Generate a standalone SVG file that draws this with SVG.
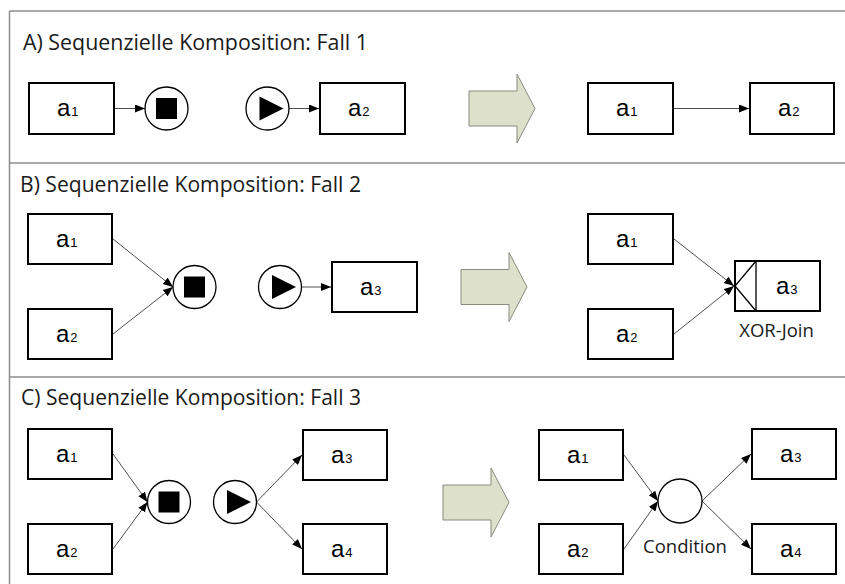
<svg xmlns="http://www.w3.org/2000/svg" width="845" height="584" viewBox="0 0 845 584">
  <defs>
    <style>
      .frame { stroke: #8c8c8c; stroke-width: 1.5; fill: none; }
      .title { font-family: "Open Sans", "Liberation Sans", sans-serif; font-size: 21.5px; fill: #1a1a1a; }
      .note { font-family: "Open Sans", "Liberation Sans", sans-serif; font-size: 18.5px; fill: #1a1a1a; text-anchor: middle; }
      .box { fill: #ffffff; stroke: #000000; stroke-width: 2; }
      .lbl { font-family: "Liberation Sans", Arial, sans-serif; font-size: 24px; fill: #000000; }
      .sub { font-size: 13px; }
      .ev { fill: #ffffff; stroke: #000000; stroke-width: 1.3; }
      .mark { fill: #000000; }
      .flow { stroke: #3a3a3a; stroke-width: 0.9; fill: none; marker-end: url(#tip); }
      .big { fill: #dde0cb; stroke: #8a8a80; stroke-width: 1; }
    </style>
    <marker id="tip" markerUnits="userSpaceOnUse" markerWidth="11" markerHeight="9" refX="10" refY="4" orient="auto">
      <path d="M0,0 L10,4 L0,8 z" fill="#000000"/>
    </marker>
    <!-- end event: circle with filled square -->
    <g id="stopEv">
      <circle class="ev" r="21.5"/>
      <rect class="mark" x="-10.5" y="-10.5" width="21" height="21"/>
    </g>
    <!-- start event: circle with filled triangle -->
    <g id="startEv">
      <circle class="ev" r="21.5"/>
      <path class="mark" d="M-8,-12 L16,0 L-8,12 z"/>
    </g>
    <!-- transformation arrow -->
    <path id="bigArrow" class="big" d="M0,-17.5 L48,-17.5 L48,-34.5 L66,0 L48,34.5 L48,17.5 L0,17.5 z"/>
  </defs>

  <!-- section frame -->
  <g id="frame">
    <line class="frame" x1="9.5" y1="11" x2="845" y2="11"/>
    <line class="frame" x1="9.5" y1="11" x2="9.5" y2="584"/>
    <line class="frame" x1="9.5" y1="163" x2="845" y2="163"/>
    <line class="frame" x1="9.5" y1="377" x2="845" y2="377"/>
  </g>

  <g id="titles">
    <text class="title" x="23" y="50" textLength="345" lengthAdjust="spacingAndGlyphs">A) Sequenzielle Komposition: Fall 1</text>
    <text class="title" x="20" y="192" textLength="341" lengthAdjust="spacingAndGlyphs">B) Sequenzielle Komposition: Fall 2</text>
    <text class="title" x="21" y="405" textLength="340" lengthAdjust="spacingAndGlyphs">C) Sequenzielle Komposition: Fall 3</text>
  </g>

  <g id="transform-arrows">
    <use href="#bigArrow" x="469" y="108.5"/>
    <use href="#bigArrow" x="461" y="287"/>
    <use href="#bigArrow" x="443" y="502.5"/>
  </g>

  <!-- connectors -->
  <g id="connectors">
    <!-- A -->
    <line class="flow" x1="115" y1="108.5" x2="145" y2="108.5"/>
    <line class="flow" x1="289" y1="108.5" x2="319" y2="108.5"/>
    <line class="flow" x1="674" y1="108.5" x2="749" y2="108.5"/>
    <!-- B -->
    <line class="flow" x1="113" y1="239" x2="173" y2="287"/>
    <line class="flow" x1="113" y1="334" x2="173" y2="287"/>
    <line class="flow" x1="301.5" y1="287" x2="331" y2="287"/>
    <line class="flow" x1="674" y1="239" x2="734" y2="286"/>
    <line class="flow" x1="674" y1="334" x2="734" y2="286"/>
    <!-- C -->
    <line class="flow" x1="113" y1="454" x2="147.5" y2="502"/>
    <line class="flow" x1="113" y1="549" x2="147.5" y2="502"/>
    <line class="flow" x1="256.5" y1="502" x2="302" y2="455"/>
    <line class="flow" x1="256.5" y1="502" x2="302" y2="549"/>
    <line class="flow" x1="624" y1="455" x2="658" y2="501"/>
    <line class="flow" x1="624" y1="549" x2="658" y2="501"/>
    <line class="flow" x1="702" y1="501" x2="751" y2="454"/>
    <line class="flow" x1="702" y1="501" x2="751" y2="549"/>
  </g>

  <!-- A: sequential composition, case 1 -->
  <g id="A-a1"><rect class="box" x="29" y="83" width="85" height="51"/><text class="lbl" x="57" y="116">a<tspan class="sub" dx="1">1</tspan></text></g>
  <g id="A-end"><use href="#stopEv" x="166.5" y="108.5"/></g>
  <g id="A-start"><use href="#startEv" x="267.5" y="108.5"/></g>
  <g id="A-a2"><rect class="box" x="320" y="83" width="85" height="51"/><text class="lbl" x="348" y="116">a<tspan class="sub" dx="1">2</tspan></text></g>
  <g id="A-r-a1"><rect class="box" x="588" y="83" width="85" height="51"/><text class="lbl" x="616" y="116">a<tspan class="sub" dx="1">1</tspan></text></g>
  <g id="A-r-a2"><rect class="box" x="750" y="83" width="84" height="51"/><text class="lbl" x="778" y="116">a<tspan class="sub" dx="1">2</tspan></text></g>

  <!-- B: sequential composition, case 2 -->
  <g id="B-a1"><rect class="box" x="28" y="214" width="84" height="50"/><text class="lbl" x="56" y="247">a<tspan class="sub" dx="1">1</tspan></text></g>
  <g id="B-a2"><rect class="box" x="28" y="309" width="84" height="50"/><text class="lbl" x="56" y="342">a<tspan class="sub" dx="1">2</tspan></text></g>
  <g id="B-end"><use href="#stopEv" x="194.5" y="287"/></g>
  <g id="B-start"><use href="#startEv" x="280" y="287"/></g>
  <g id="B-a3"><rect class="box" x="332" y="262" width="85" height="50"/><text class="lbl" x="360" y="295">a<tspan class="sub" dx="1">3</tspan></text></g>
  <g id="B-r-a1"><rect class="box" x="588" y="214" width="85" height="50"/><text class="lbl" x="616" y="247">a<tspan class="sub" dx="1">1</tspan></text></g>
  <g id="B-r-a2"><rect class="box" x="588" y="309" width="85" height="50"/><text class="lbl" x="616" y="342">a<tspan class="sub" dx="1">2</tspan></text></g>
  <g id="B-r-a3-xor">
    <rect class="box" x="735" y="261" width="85" height="50"/>
    <path d="M756,261 V311 M756,261 L735,286 L756,311" stroke="#000" stroke-width="1.3" fill="none"/>
    <text class="lbl" x="776" y="294">a<tspan class="sub" dx="1">3</tspan></text>
    <text class="note" x="776.5" y="337">XOR-Join</text>
  </g>

  <!-- C: sequential composition, case 3 -->
  <g id="C-a1"><rect class="box" x="28" y="429" width="84" height="50"/><text class="lbl" x="56" y="462">a<tspan class="sub" dx="1">1</tspan></text></g>
  <g id="C-a2"><rect class="box" x="28" y="524" width="84" height="50"/><text class="lbl" x="56" y="557">a<tspan class="sub" dx="1">2</tspan></text></g>
  <g id="C-end"><use href="#stopEv" x="169" y="502"/></g>
  <g id="C-start"><use href="#startEv" x="235" y="502"/></g>
  <g id="C-a3"><rect class="box" x="303" y="430" width="84" height="50"/><text class="lbl" x="331" y="463">a<tspan class="sub" dx="1">3</tspan></text></g>
  <g id="C-a4"><rect class="box" x="303" y="524" width="84" height="50"/><text class="lbl" x="331" y="557">a<tspan class="sub" dx="1">4</tspan></text></g>
  <g id="C-r-a1"><rect class="box" x="539" y="430" width="84" height="50"/><text class="lbl" x="567" y="463">a<tspan class="sub" dx="1">1</tspan></text></g>
  <g id="C-r-a2"><rect class="box" x="539" y="524" width="84" height="50"/><text class="lbl" x="567" y="557">a<tspan class="sub" dx="1">2</tspan></text></g>
  <g id="C-r-cond">
    <circle class="ev" cx="680" cy="501" r="22"/>
    <text class="note" x="685" y="553">Condition</text>
  </g>
  <g id="C-r-a3"><rect class="box" x="752" y="429" width="84" height="50"/><text class="lbl" x="780" y="462">a<tspan class="sub" dx="1">3</tspan></text></g>
  <g id="C-r-a4"><rect class="box" x="752" y="524" width="84" height="50"/><text class="lbl" x="780" y="557">a<tspan class="sub" dx="1">4</tspan></text></g>
</svg>
